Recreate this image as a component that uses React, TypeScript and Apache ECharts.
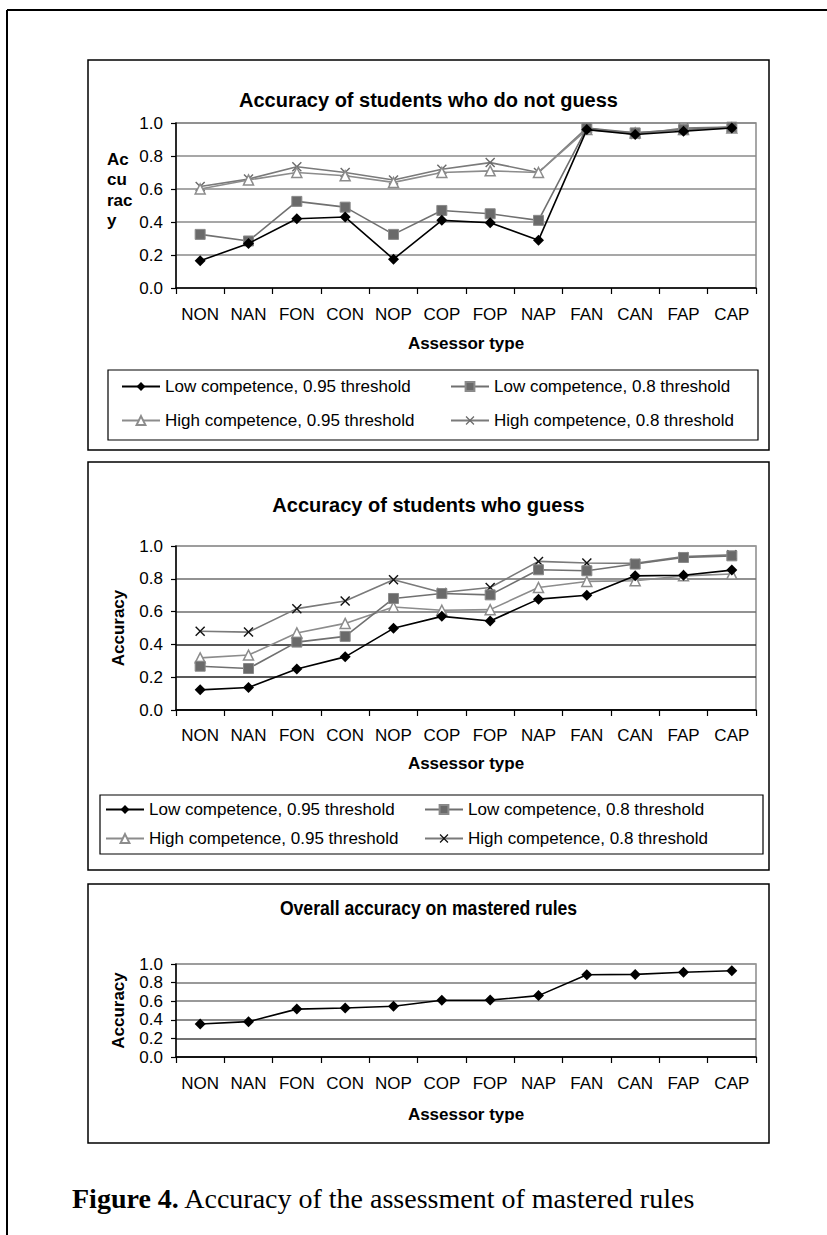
import React, { useEffect, useRef } from "react";
import * as echarts from "echarts";

const categories = ["NON", "NAN", "FON", "CON", "NOP", "COP", "FOP", "NAP", "FAN", "CAN", "FAP", "CAP"];
const seriesNames = [
  "Low competence, 0.95 threshold",
  "Low competence, 0.8 threshold",
  "High competence, 0.95 threshold",
  "High competence, 0.8 threshold",
];
const yTickStep = 0.2;

// Chart 1: students who do not guess
const noGuessLow95 = [0.165, 0.27, 0.42, 0.43, 0.175, 0.41, 0.395, 0.29, 0.96, 0.93, 0.95, 0.97];
const noGuessLow80 = [0.325, 0.285, 0.525, 0.49, 0.325, 0.47, 0.45, 0.41, 0.97, 0.94, 0.96, 0.975];
const noGuessHigh95 = [0.6, 0.655, 0.7, 0.68, 0.64, 0.7, 0.71, 0.7, 0.96, 0.94, 0.96, 0.97];
const noGuessHigh80 = [0.615, 0.66, 0.735, 0.7, 0.655, 0.72, 0.76, 0.7, 0.97, 0.93, 0.97, 0.975];

// Chart 2: students who guess
const guessLow95 = [0.123, 0.137, 0.25, 0.324, 0.498, 0.571, 0.543, 0.676, 0.7, 0.818, 0.822, 0.853];
const guessLow80 = [0.267, 0.253, 0.414, 0.449, 0.68, 0.71, 0.702, 0.855, 0.849, 0.89, 0.93, 0.94];
const guessHigh95 = [0.318, 0.335, 0.47, 0.528, 0.628, 0.608, 0.612, 0.747, 0.784, 0.788, 0.818, 0.829];
const guessHigh80 = [0.48, 0.475, 0.618, 0.665, 0.794, 0.716, 0.747, 0.906, 0.896, 0.894, 0.935, 0.947];

// Chart 3: overall accuracy on mastered rules
const overallAccuracy = [0.355, 0.38, 0.515, 0.527, 0.545, 0.61, 0.612, 0.66, 0.885, 0.888, 0.912, 0.927];

const titles = [
  "Accuracy of students who do not guess",
  "Accuracy of students who guess",
  "Overall accuracy on mastered rules",
];
const xAxisTitle = "Assessor type";
const yAxisTitle = "Accuracy";
const captionBold = "Figure 4.";
const captionRest = " Accuracy of the assessment of mastered rules";

const SANS = '"Liberation Sans", Arial, Helvetica, sans-serif';
const SERIF = '"Liberation Serif", "Times New Roman", Times, serif';
const X_PATH = "path://M0,1L1,0L5,4L9,0L10,1L6,5L10,9L9,10L5,6L1,10L0,9L4,5Z";

const PLOT_LEFT = 176;
const PLOT_WIDTH = 580;

const layout = [
  {
    box: [88, 60, 681, 390], title: 100, titleScale: 1, top: 123, height: 165, xl: 314, at: 343,
    gridColor: ["#8a8a8a"],
  },
  {
    box: [88, 462, 681, 408], title: 505, titleScale: 1, top: 546, height: 164, xl: 735, at: 763,
    gridColor: ["#111111", "#222222", "#222222", "#6e6e6e", "#6e6e6e", "#9a9a9a"],
  },
  {
    box: [88, 884, 681, 259], title: 908, titleScale: 0.88, top: 964, height: 93, xl: 1083, at: 1114,
    gridColor: ["#333333", "#444444", "#666666", "#777777", "#777777", "#9a9a9a"],
  },
];

const legendLayout = [
  { box: [108, 370, 650, 70], rows: [388, 422], cols: [121, 450] },
  { box: [100, 795, 663, 59], rows: [811, 840], cols: [105, 424] },
];

function styleFor(k: number, chart: number) {
  if (k === 0)
    return { symbol: "diamond", size: 11, line: "#000000", fill: "#000000", border: "#000000", bw: 0 };
  if (k === 1)
    return { symbol: "rect", size: 10, line: "#707070", fill: "#6a6a6a", border: "#8a8a8a", bw: 1 };
  if (k === 2)
    return { symbol: "triangle", size: 10, line: "#8c8c8c", fill: "#ffffff", border: "#8c8c8c", bw: 1.5 };
  return {
    symbol: X_PATH,
    size: 10,
    line: "#7a7a7a",
    fill: chart === 0 ? "#6a6a6a" : "#111111",
    border: chart === 0 ? "#6a6a6a" : "#111111",
    bw: 0,
  };
}

function App() {
  const ref = useRef<HTMLDivElement>(null);

  useEffect(() => {
    if (!ref.current) return;
    const chart = echarts.init(ref.current, null, { renderer: "svg" });

    const grids = layout.map((l) => ({
      left: PLOT_LEFT,
      top: l.top,
      width: PLOT_WIDTH,
      height: l.height,
      containLabel: false,
      show: true,
      borderColor: "#8a8a8a",
      borderWidth: 1.5,
      backgroundColor: "transparent",
    }));

    const xAxes = layout.map((l, i) => ({
      type: "category",
      gridIndex: i,
      data: categories,
      boundaryGap: true,
      axisLine: { show: true, lineStyle: { color: "#000", width: 1.5 } },
      axisTick: { show: true, alignWithLabel: false, inside: false, length: 6, lineStyle: { color: "#000", width: 1.2 } },
      axisLabel: {
        show: true,
        interval: 0,
        margin: l.xl - (l.top + l.height) - 8,
        fontFamily: SANS,
        fontSize: 17,
        color: "#000",
      },
      splitLine: { show: false },
    }));

    const yAxes = layout.map((l, i) => ({
      type: "value",
      gridIndex: i,
      min: 0,
      max: 1,
      interval: yTickStep,
      axisLine: { show: true, lineStyle: { color: "#000", width: 1.5 } },
      axisTick: { show: true, inside: false, length: 5, lineStyle: { color: "#000", width: 1.2 } },
      axisLabel: {
        show: true,
        margin: 13,
        fontFamily: SANS,
        fontSize: 17,
        color: "#000",
        formatter: (v: number) => v.toFixed(1),
      },
      splitLine: { show: true, lineStyle: { color: l.gridColor, width: 1.5 } },
    }));

    const chartData = [
      [noGuessLow95, noGuessLow80, noGuessHigh95, noGuessHigh80],
      [guessLow95, guessLow80, guessHigh95, guessHigh80],
    ];

    const series: any[] = [];
    chartData.forEach((group, ci) => {
      group.forEach((data, k) => {
        const s = styleFor(k, ci);
        series.push({
          type: "line",
          name: (ci === 1 ? "g|" : "") + seriesNames[k],
          data,
          xAxisIndex: ci,
          yAxisIndex: ci,
          symbol: s.symbol,
          symbolSize: s.size,
          showSymbol: true,
          lineStyle: { color: s.line, width: 1.6 },
          itemStyle: { color: s.fill, borderColor: s.border, borderWidth: s.bw },
          emphasis: { disabled: true },
          z: 10 - k,
        });
      });
    });
    series.push({
      type: "line",
      name: "Overall",
      data: overallAccuracy,
      xAxisIndex: 2,
      yAxisIndex: 2,
      symbol: "diamond",
      symbolSize: 11,
      lineStyle: { color: "#000", width: 1.6 },
      itemStyle: { color: "#000" },
      emphasis: { disabled: true },
    });

    const legends: any[] = [];
    legendLayout.forEach((lg, ci) => {
      seriesNames.forEach((n, k) => {
        const row = Math.floor(k / 2);
        const col = k % 2;
        legends.push({
          data: [(ci === 1 ? "g|" : "") + n],
          left: lg.cols[col],
          top: lg.rows[row] - 10,
          padding: 0,
          itemWidth: 38,
          itemHeight: 11,
          itemGap: 0,
          selectedMode: false,
          formatter: (name: string) => name.split("|").pop(),
          textStyle: { fontFamily: SANS, fontSize: 17, color: "#000", padding: [0, 0, 0, 0] },
        });
      });
    });

    const graphic: any[] = [];
    // outer frame lines
    graphic.push({ type: "line", shape: { x1: 7, y1: 10, x2: 827, y2: 10 }, style: { stroke: "#000", lineWidth: 2 } });
    graphic.push({ type: "line", shape: { x1: 7, y1: 10, x2: 7, y2: 1235 }, style: { stroke: "#000", lineWidth: 2 } });

    layout.forEach((l, i) => {
      graphic.push({
        type: "rect",
        shape: { x: l.box[0], y: l.box[1], width: l.box[2], height: l.box[3] },
        style: { fill: "none", stroke: "#000", lineWidth: 1.5 },
        z: 1,
      });
      graphic.push({
        type: "text",
        x: (l.box[0] * 2 + l.box[2]) / 2,
        y: l.title,
        scaleX: l.titleScale,
        style: {
          text: titles[i],
          font: `bold 20px ${SANS}`,
          fill: "#000",
          align: "center",
          verticalAlign: "middle",
          textAlign: "center",
          textVerticalAlign: "middle",
        },
      });
      graphic.push({
        type: "text",
        x: PLOT_LEFT + PLOT_WIDTH / 2,
        y: l.at,
        style: {
          text: xAxisTitle,
          font: `bold 17px ${SANS}`,
          fill: "#000",
          align: "center",
          verticalAlign: "middle",
          textAlign: "center",
          textVerticalAlign: "middle",
        },
      });
      if (i > 0) {
        graphic.push({
          type: "text",
          x: 118,
          y: l.top + l.height / 2,
          rotation: Math.PI / 2,
          style: {
            text: yAxisTitle,
            font: `bold 17px ${SANS}`,
            fill: "#000",
            align: "center",
            verticalAlign: "middle",
            textAlign: "center",
            textVerticalAlign: "middle",
          },
        });
      }
    });

    // wrapped axis title in chart 1
    graphic.push({
      type: "text",
      x: 107,
      y: 149,
      style: {
        text: "Ac\ncu\nrac\ny",
        font: `bold 17px ${SANS}`,
        lineHeight: 20.5,
        fill: "#000",
        align: "left",
        verticalAlign: "top",
        textAlign: "left",
        textVerticalAlign: "top",
      },
    });

    legendLayout.forEach((lg) => {
      graphic.push({
        type: "rect",
        shape: { x: lg.box[0], y: lg.box[1], width: lg.box[2], height: lg.box[3] },
        style: { fill: "none", stroke: "#000", lineWidth: 1.2 },
        z: 1,
      });
    });

    graphic.push({
      type: "text",
      x: 72,
      y: 1198,
      style: {
        text: `{b|${captionBold}}{r|${captionRest}}`,
        rich: {
          b: { font: `bold 28px ${SERIF}`, fill: "#000" },
          r: { font: `28px ${SERIF}`, fill: "#000" },
        },
        fill: "#000",
        align: "left",
        verticalAlign: "middle",
        textAlign: "left",
        textVerticalAlign: "middle",
      },
    });

    chart.setOption({
      animation: false,
      backgroundColor: "#ffffff",
      grid: grids,
      xAxis: xAxes,
      yAxis: yAxes,
      legend: legends,
      series,
      graphic,
    });

    return () => chart.dispose();
  }, []);

  return (
    <div style={{ position: "absolute", left: 0, top: 0, width: 827, height: 1235, background: "#fff" }}>
      <div ref={ref} style={{ width: 827, height: 1235 }} />
    </div>
  );
}

export default App;
